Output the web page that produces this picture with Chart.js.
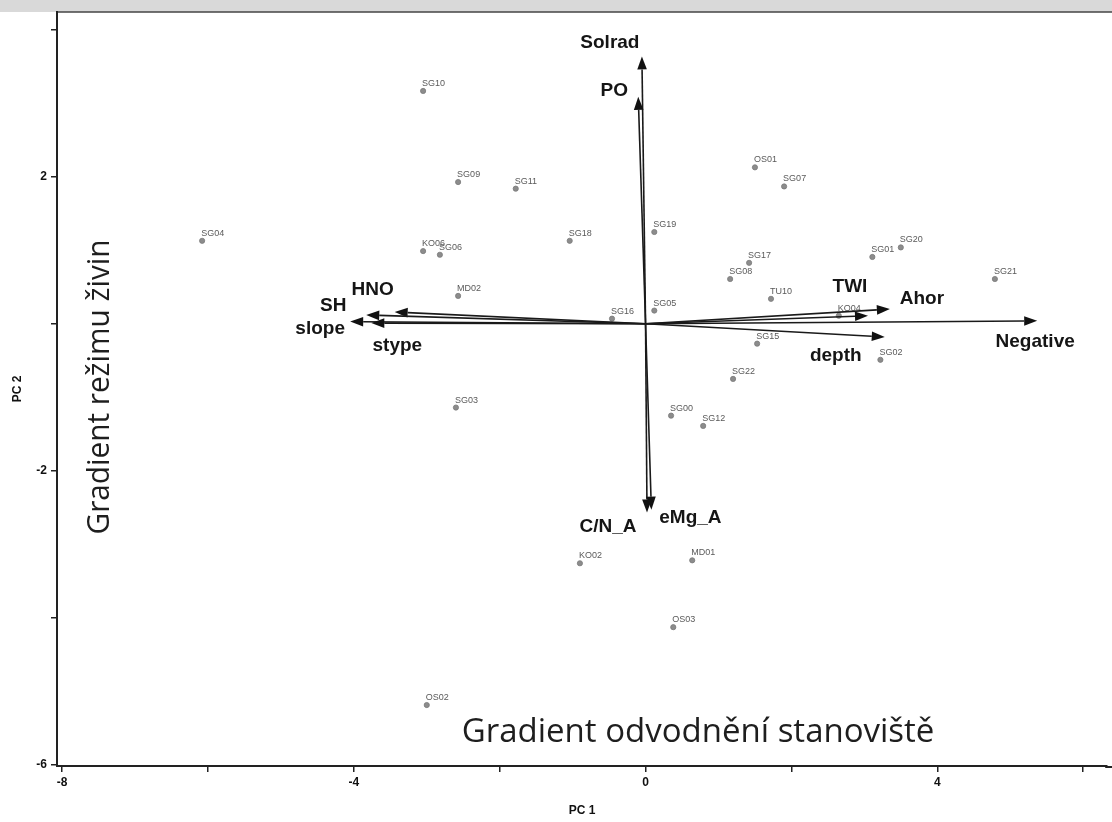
<!DOCTYPE html>
<html>
<head>
<meta charset="utf-8">
<script src="https://cdn.jsdelivr.net/npm/chart.js@4.4.1/dist/chart.umd.min.js"></script>
<style>
html, body { margin: 0; padding: 0; background: #fff; }
#wrap { position: relative; width: 1112px; height: 822px; overflow: hidden; }
</style>
</head>
<body>
<div id="wrap"><canvas id="chart"></canvas></div>
<script>
// site scores (PC1, PC2)
var siteNames = ["SG10", "SG09", "SG11", "SG04", "KO06", "SG06", "MD02", "SG18", "SG19", "OS01",
                 "SG07", "SG17", "SG08", "TU10", "SG01", "SG20", "SG21", "SG05", "SG16", "KO04",
                 "SG15", "SG02", "SG22", "SG03", "SG00", "SG12", "KO02", "MD01", "OS03", "OS02"];
var sitePC1 = [-3.05, -2.57, -1.78, -6.08, -3.05, -2.82, -2.57, -1.04, 0.12, 1.50,
               1.90, 1.42, 1.16, 1.72, 3.11, 3.50, 4.79, 0.12, -0.46, 2.65,
               1.53, 3.22, 1.20, -2.60, 0.35, 0.79, -0.90, 0.64, 0.38, -3.00];
var sitePC2 = [3.17, 1.93, 1.84, 1.13, 0.99, 0.94, 0.38, 1.13, 1.25, 2.13,
               1.87, 0.83, 0.61, 0.34, 0.91, 1.04, 0.61, 0.18, 0.07, 0.11,
               -0.27, -0.49, -0.75, -1.14, -1.25, -1.39, -3.26, -3.22, -4.13, -5.19];

// variable loadings (arrow tips)
var varNames = ["Solrad", "PO", "HNO", "SH", "slope", "stype", "TWI", "Ahor", "depth", "Negative", "C/N_A", "eMg_A"];
var varPC1 = [-0.05, -0.10, -3.44, -3.83, -4.05, -3.76, 3.05, 3.35, 3.28, 5.37, 0.02, 0.08];
var varPC2 = [3.64, 3.09, 0.16, 0.12, 0.03, 0.01, 0.11, 0.20, -0.18, 0.04, -2.57, -2.53];

// axis tick labels
var xTickLabels = [-8, -4, 0, 4];
var yTickLabels = [2, -2, -6];

// label offsets of the arrow names, in pixels from the arrow tip
var varLabelOffset = {
    "Solrad": [-32, -14], "PO": [-24, -6], "HNO": [-22, -22], "SH": [-33, -9],
    "slope": [-30, 7], "stype": [26, 23], "TWI": [-18, -29], "Ahor": [32, -10],
    "depth": [-49, 19], "Negative": [-2, 21], "C/N_A": [-39, 14], "eMg_A": [39, 8]
};

var siteData = siteNames.map(function(n, i) {
    return { x: sitePC1[i], y: sitePC2[i], name: n };
});

// gray strip above the plot, top frame line, axis line run out to the edge
var framePlugin = {
    id: "frame",
    beforeDraw: function(chart) {
        var ctx = chart.ctx, a = chart.chartArea;
        ctx.save();
        ctx.fillStyle = "#d9d9d9";
        ctx.fillRect(0, 0, chart.width, a.top);
        ctx.strokeStyle = "#444";
        ctx.lineWidth = 1.5;
        ctx.beginPath();
        ctx.moveTo(a.left, a.top);
        ctx.lineTo(chart.width, a.top);
        ctx.stroke();
        ctx.strokeStyle = "#222";
        ctx.lineWidth = 2;
        ctx.beginPath();
        ctx.moveTo(a.right - 2, a.bottom + 1);
        ctx.lineTo(chart.width, a.bottom + 1);
        ctx.stroke();
        ctx.restore();
    }
};

// biplot arrows, their names, site names and the two gradient notes
var biplotPlugin = {
    id: "biplot",
    afterDatasetsDraw: function(chart) {
        var ctx = chart.ctx;
        var xs = chart.scales.x, ys = chart.scales.y;
        var ox = xs.getPixelForValue(0), oy = ys.getPixelForValue(0);
        ctx.save();

        // site labels
        ctx.font = "9px 'Liberation Sans', Arial, sans-serif";
        ctx.fillStyle = "#5a5a5a";
        ctx.textAlign = "left";
        ctx.textBaseline = "alphabetic";
        siteData.forEach(function(p) {
            var px = xs.getPixelForValue(p.x), py = ys.getPixelForValue(p.y);
            ctx.fillText(p.name, px - 1, py - 5);
        });

        // arrows
        ctx.strokeStyle = "#1a1a1a";
        ctx.fillStyle = "#111";
        ctx.lineWidth = 1.6;
        for (var i = 0; i < varNames.length; i++) {
            var tx = xs.getPixelForValue(varPC1[i]), ty = ys.getPixelForValue(varPC2[i]);
            var ang = Math.atan2(ty - oy, tx - ox);
            var hl = 13, hw = 4.8;
            var bx = tx - hl * Math.cos(ang), by = ty - hl * Math.sin(ang);
            ctx.beginPath();
            ctx.moveTo(ox, oy);
            ctx.lineTo(bx, by);
            ctx.stroke();
            ctx.beginPath();
            ctx.moveTo(tx, ty);
            ctx.lineTo(bx + hw * Math.sin(ang), by - hw * Math.cos(ang));
            ctx.lineTo(bx - hw * Math.sin(ang), by + hw * Math.cos(ang));
            ctx.closePath();
            ctx.fill();
        }

        // arrow names
        ctx.font = "bold 19px 'Liberation Sans', Arial, sans-serif";
        ctx.fillStyle = "#151515";
        ctx.textAlign = "center";
        ctx.textBaseline = "middle";
        for (var j = 0; j < varNames.length; j++) {
            var off = varLabelOffset[varNames[j]];
            ctx.fillText(varNames[j],
                xs.getPixelForValue(varPC1[j]) + off[0],
                ys.getPixelForValue(varPC2[j]) + off[1]);
        }

        // gradient notes
        ctx.font = "33px 'Open Sans', sans-serif";
        ctx.fillStyle = "#1e1e1e";
        ctx.fillText("Gradient odvodnění stanoviště",
            xs.getPixelForValue(0.72), ys.getPixelForValue(-5.56), 473);
        ctx.font = "31px 'Open Sans', sans-serif";
        ctx.save();
        ctx.translate(xs.getPixelForValue(-7.48), ys.getPixelForValue(-0.86));
        ctx.rotate(-Math.PI / 2);
        ctx.fillText("Gradient režimu živin", 0, 0, 295);
        ctx.restore();

        ctx.restore();
    }
};

function createChart() {
    var ctx = document.getElementById("chart").getContext("2d");
    var tickFont = { family: "'Liberation Sans', Arial, sans-serif", size: 12, weight: "bold" };

    new Chart(ctx, {
        type: "scatter",
        data: {
            datasets: [{
                label: "sites",
                data: siteData,
                pointRadius: 2.6,
                pointBackgroundColor: "#8c8c8c",
                pointBorderColor: "#7a7a7a",
                pointBorderWidth: 0.8
            }]
        },
        options: {
            responsive: true,
            maintainAspectRatio: false,
            animation: false,
            layout: { padding: { top: 12, right: 0, left: 0, bottom: 0 } },
            plugins: {
                legend: { display: false },
                tooltip: { enabled: false }
            },
            scales: {
                x: {
                    type: "linear",
                    min: -8.07,
                    max: 6.33,
                    afterFit: function(scale) { scale.height = 56; },
                    border: { display: true, color: "#222", width: 2 },
                    grid: { drawOnChartArea: false, drawTicks: true, tickLength: 6, color: "#222", lineWidth: 1.5 },
                    ticks: {
                        stepSize: 2,
                        includeBounds: false,
                        autoSkip: false,
                        maxRotation: 0,
                        padding: 3,
                        color: "#111",
                        font: tickFont,
                        callback: function(v) {
                            var r = Math.round(v * 100) / 100;
                            return xTickLabels.indexOf(r) >= 0 ? String(r) : "";
                        }
                    },
                    title: {
                        display: true,
                        text: "PC 1",
                        color: "#111",
                        font: tickFont,
                        padding: { top: 4, bottom: 4 }
                    }
                },
                y: {
                    type: "linear",
                    min: -6.02,
                    max: 4.245,
                    afterFit: function(scale) { scale.width = 57; },
                    border: { display: true, color: "#222", width: 2 },
                    grid: { drawOnChartArea: false, drawTicks: true, tickLength: 6, color: "#222", lineWidth: 1.5 },
                    ticks: {
                        stepSize: 2,
                        includeBounds: false,
                        autoSkip: false,
                        padding: 4,
                        color: "#111",
                        font: tickFont,
                        callback: function(v) {
                            var r = Math.round(v * 100) / 100;
                            return yTickLabels.indexOf(r) >= 0 ? String(r) : "";
                        }
                    },
                    title: {
                        display: true,
                        text: "PC 2",
                        color: "#111",
                        font: tickFont,
                        padding: { top: 10, bottom: 4 }
                    }
                }
            }
        },
        plugins: [framePlugin, biplotPlugin]
    });
}

createChart();
</script>
</body>
</html>
